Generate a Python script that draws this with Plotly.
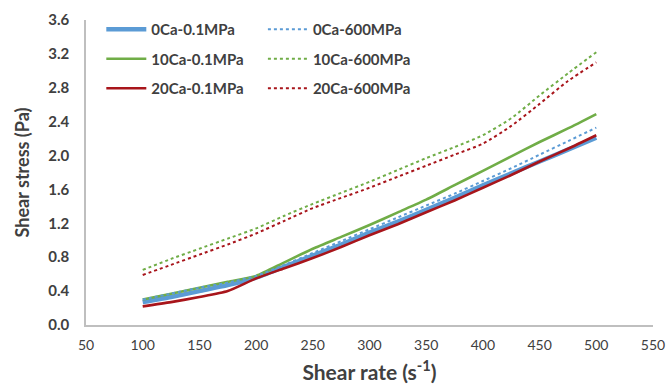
import plotly.graph_objects as go

shear_rate = [100, 125, 150, 175, 200, 225, 250, 275, 300, 325, 350, 375, 400, 425, 450, 475, 500]

ca0_01 = [0.27, 0.33, 0.40, 0.47, 0.56, 0.69, 0.82, 0.95, 1.09, 1.22, 1.36, 1.50, 1.65, 1.79, 1.93, 2.07, 2.21]
ca0_600 = [0.30, 0.37, 0.44, 0.50, 0.58, 0.71, 0.85, 0.99, 1.13, 1.27, 1.41, 1.55, 1.70, 1.85, 2.01, 2.17, 2.33]
ca10_01 = [0.30, 0.37, 0.44, 0.51, 0.58, 0.74, 0.90, 1.04, 1.18, 1.33, 1.48, 1.65, 1.82, 1.99, 2.16, 2.32, 2.49]
ca10_600 = [0.65, 0.78, 0.90, 1.02, 1.14, 1.29, 1.43, 1.56, 1.69, 1.83, 1.97, 2.10, 2.24, 2.44, 2.71, 2.97, 3.22]
ca20_01 = [0.22, 0.27, 0.33, 0.40, 0.55, 0.67, 0.79, 0.92, 1.06, 1.19, 1.33, 1.47, 1.62, 1.77, 1.93, 2.08, 2.24]
ca20_600 = [0.59, 0.71, 0.83, 0.95, 1.08, 1.23, 1.38, 1.50, 1.62, 1.75, 1.88, 2.01, 2.14, 2.35, 2.61, 2.88, 3.10]

names = ["0Ca-0.1MPa", "0Ca-600MPa", "10Ca-0.1MPa", "10Ca-600MPa", "20Ca-0.1MPa", "20Ca-600MPa"]
y_ticks = [0.0, 0.4, 0.8, 1.2, 1.6, 2.0, 2.4, 2.8, 3.2, 3.6]
x_ticks = [50, 100, 150, 200, 250, 300, 350, 400, 450, 500, 550]

BLUE = "#5B9BD5"
GREEN = "#70AD47"
RED = "#A8151B"
TXT = "#404040"

series = [
    (names[0], ca0_01, BLUE, "solid", 4.5, "legend"),
    (names[2], ca10_01, GREEN, "solid", 2.6, "legend"),
    (names[4], ca20_01, RED, "solid", 2.6, "legend"),
    (names[1], ca0_600, BLUE, "dot", 2, "legend2"),
    (names[3], ca10_600, GREEN, "dot", 2, "legend2"),
    (names[5], ca20_600, RED, "dot", 2, "legend2"),
]

fig = go.Figure()
for i, (nm, ys, col, dash, w, lg) in enumerate(series):
    fig.add_trace(go.Scatter(
        x=shear_rate, y=ys, name=nm, mode="lines",
        line=dict(color=col, dash=dash, width=w, shape="spline", smoothing=0.6),
        legend=lg, legendgroup=nm,
    ))

legend_common = dict(
    font=dict(family="Lato", size=15, color=TXT, weight="bold"),
    bgcolor="rgba(0,0,0,0)", tracegroupgap=7, itemwidth=40,
    xanchor="left", yanchor="top", traceorder="grouped",
)

fig.update_layout(
    width=667, height=384,
    margin=dict(l=86, r=14, t=20, b=59),
    paper_bgcolor="white", plot_bgcolor="white",
    font=dict(family="Lato", color=TXT),
    legend=dict(x=0.027, y=1.023, **legend_common),
    legend2=dict(x=0.312, y=1.023, **legend_common),
    xaxis=dict(
        range=[50, 550], tickvals=x_ticks, ticktext=[str(v) for v in x_ticks],
        showline=True, linecolor="#BFBFBF", linewidth=1.5, showgrid=False,
        zeroline=False, ticks="", tickfont=dict(size=14, color=TXT),
        automargin=False, ticklabelstandoff=6,
        title=dict(text="Shear rate (s<sup>-1</sup>)", font=dict(size=21, color=TXT, weight="bold"), standoff=14),
    ),
    yaxis=dict(
        range=[0, 3.6], tickvals=y_ticks, ticktext=[f"{v:.1f}" for v in y_ticks],
        showline=True, linecolor="#BFBFBF", linewidth=1.5, showgrid=False,
        zeroline=False, ticks="", tickfont=dict(size=15, color=TXT, weight="bold"),
        automargin=False, ticklabelstandoff=12,
        title=dict(text="Shear stress (Pa)", font=dict(size=18, color=TXT, weight="bold"), standoff=14),
    ),
)

fig.write_html("out.html", config={"displayModeBar": False},
               post_script="document.body.style.margin='0';")
